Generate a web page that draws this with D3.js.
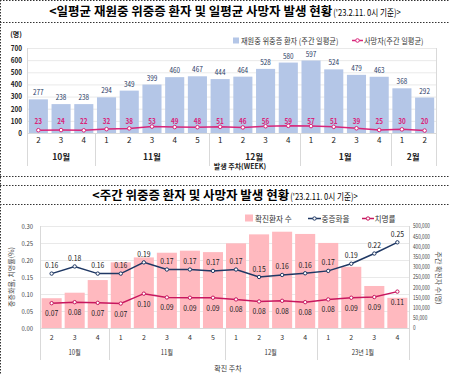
<!DOCTYPE html>
<html><head><meta charset="utf-8">
<script src="https://cdn.jsdelivr.net/npm/d3@7"></script>
<style>
html,body{margin:0;padding:0;background:#fff;}
svg{display:block;font-family:"Noto Sans CJK KR","Noto Sans",sans-serif;}
</style></head>
<body><svg id="c" width="450" height="374"></svg>
<script>
// ---------- data: top chart ----------
const topWeeks = ["2","3","4","1","2","3","4","5","1","2","3","4","1","2","3","4","1","2"];
const topMonthLabels = ["10월","11월","12월","1월","2월"];
const topMonthCounts = [3,5,4,4,2];
const severeInHospital = [277,238,238,294,349,399,460,467,444,464,528,580,597,524,479,463,368,292];
const deathsDaily = [23,24,22,32,38,53,49,48,51,46,56,59,57,51,39,25,30,20];
const topYTicks = [0,100,200,300,400,500,600,700];

// ---------- data: bottom chart ----------
const botWeeks = ["2","3","4","1","2","3","4","5","1","2","3","4","1","2","3","4"];
const botMonthLabels = ["10월","11월","12월","23년 1월"];
const botMonthCounts = [3,5,4,4];
const confirmedWeekly = [146000,173000,235000,322000,346000,369000,379000,372000,415000,459000,472000,461000,417000,300000,206000,148000];
const severeRate = [0.160,0.181,0.160,0.160,0.193,0.172,0.172,0.168,0.172,0.150,0.156,0.161,0.168,0.189,0.219,0.252];
const fatalityRate = [0.073,0.076,0.074,0.072,0.101,0.090,0.089,0.089,0.084,0.078,0.080,0.076,0.084,0.089,0.091,0.107];
const botLeftTicks = [0,0.05,0.10,0.15,0.20,0.25,0.30];
const botRightTicks = [0,50000,100000,150000,200000,250000,300000,350000,400000,450000,500000];

const svg = d3.select("#c");
const FONT = '"Noto Sans CJK KR","Noto Sans",sans-serif';

function condense(sel, f){
  sel.each(function(){
    const w = this.getComputedTextLength();
    if(w>0){ this.setAttribute("textLength", (w*f).toFixed(2)); this.setAttribute("lengthAdjust","spacingAndGlyphs"); }
  });
  return sel;
}

// ---------- frame / title boxes ----------
const dot = "1.5,1.5";
svg.append("line").attr("x1",0.5).attr("x2",0.5).attr("y1",0).attr("y2",374).attr("stroke","#333").attr("stroke-dasharray",dot);
[0.5,22.5,176.5,185.5,204.5].forEach(y=>{
  svg.append("line").attr("x1",0).attr("x2",450).attr("y1",y).attr("y2",y).attr("stroke","#333").attr("stroke-dasharray",dot);
});

function title(y, main){
  const t = svg.append("text").attr("x",225).attr("y",y).attr("text-anchor","middle").attr("fill","#000");
  t.append("tspan").attr("font-size",12.5).attr("font-weight","bold").text(main);
  const s = t.append("tspan").attr("font-size",9.5).attr("dx",1).text("('23.2.11. 0시 기준)>");
  return s;
}
condense(title(16, "<일평균 재원중 위중증 환자 및 일평균 사망자 발생 현황"),0.8);
condense(title(199.5, "<주간 위중증 환자 및 사망자 발생 현황"),0.8);

// ======================= TOP CHART =======================
const tL = 27, tR = 436;
const tx = d3.scaleBand().domain(d3.range(topWeeks.length)).range([tL,tR]).paddingInner(0.16).paddingOuter(0.08);
const ty = d3.scaleLinear().domain([0,700]).range([133,48]);
const tg = svg.append("g");

// gridlines
tg.selectAll(".tgrid").data(topYTicks).join("line")
  .attr("x1",tL).attr("x2",tR).attr("y1",d=>ty(d)+0.5).attr("y2",d=>ty(d)+0.5)
  .attr("stroke","#e3e3e3").attr("stroke-width",0.8);
// frame sides
[tL,tR].forEach(x=>tg.append("line").attr("x1",x+0.5).attr("x2",x+0.5).attr("y1",ty(700)).attr("y2",166).attr("stroke","#d9d9d9"));

// y axis labels
tg.append("g").attr("transform",`translate(${tL-5},0)`)
  .call(d3.axisLeft(ty).tickValues(topYTicks).tickSize(0).tickPadding(0))
  .call(g=>g.select(".domain").remove())
  .call(g=>g.selectAll("text").attr("font-size",7.5).attr("font-weight","bold").attr("fill","#222").attr("font-family",FONT).each(function(){condense(d3.select(this),0.85);}));
tg.append("text").attr("x",16).attr("y",37).attr("text-anchor","middle").attr("font-size",7).attr("font-weight","bold").attr("fill","#222").text("(명)");

// bars
tg.selectAll(".tbar").data(severeInHospital).join("rect")
  .attr("x",(d,i)=>tx(i)).attr("width",tx.bandwidth())
  .attr("y",d=>ty(d)).attr("height",d=>ty(0)-ty(d)).attr("fill","#b4c6e7");
// bar labels
tg.selectAll(".tbl").data(severeInHospital).join("text")
  .attr("x",(d,i)=>tx(i)+tx.bandwidth()/2).attr("y",d=>ty(d)-4)
  .attr("text-anchor","middle").attr("font-size",7.5).attr("fill","#1f3864").text(d=>d)
  .call(s=>condense(s,0.85));

// x axis line
tg.append("line").attr("x1",tL).attr("x2",tR).attr("y1",ty(0)+0.5).attr("y2",ty(0)+0.5).attr("stroke","#d9d9d9");

// death line
const tline = d3.line().x((d,i)=>tx(i)+tx.bandwidth()/2).y(d=>ty(d));
tg.append("path").datum(deathsDaily).attr("d",tline).attr("fill","none").attr("stroke","#d9257a").attr("stroke-width",1.5);
tg.selectAll(".tdot").data(deathsDaily).join("circle")
  .attr("cx",(d,i)=>tx(i)+tx.bandwidth()/2).attr("cy",d=>ty(d)).attr("r",1.8)
  .attr("fill","#fff").attr("stroke","#d9257a").attr("stroke-width",1);
tg.selectAll(".tdl").data(deathsDaily).join("text")
  .attr("x",(d,i)=>tx(i)+tx.bandwidth()/2).attr("y",123.5)
  .attr("text-anchor","middle").attr("font-size",7.5).attr("font-weight","bold").attr("fill","#d9257a").text(d=>d)
  .call(s=>condense(s,0.85));

// week labels
tg.selectAll(".twk").data(topWeeks).join("text")
  .attr("x",(d,i)=>tx(i)+tx.bandwidth()/2).attr("y",143)
  .attr("text-anchor","middle").attr("font-size",8).attr("fill","#222").text(d=>d);
// month groups
{
  let start = 0;
  topMonthCounts.forEach((n,k)=>{
    const x0 = tL + (tR-tL)*start/topWeeks.length;
    const x1 = tL + (tR-tL)*(start+n)/topWeeks.length;
    if(k>0) tg.append("line").attr("x1",Math.round(x0)+0.5).attr("x2",Math.round(x0)+0.5).attr("y1",ty(0)).attr("y2",166).attr("stroke","#d9d9d9");
    tg.append("text").attr("x",(x0+x1)/2).attr("y",160).attr("text-anchor","middle").attr("font-size",8.5).attr("font-weight","bold").attr("fill","#222").text(topMonthLabels[k]);
    start += n;
  });
}
tg.append("text").attr("x",240).attr("y",168.5).attr("text-anchor","middle").attr("font-size",7).attr("font-weight","bold").attr("fill","#222").text("발생 주차(WEEK)");

// legend top
tg.append("rect").attr("x",233).attr("y",37.5).attr("width",6).attr("height",6).attr("fill","#b4c6e7");
tg.append("text").attr("x",241).attr("y",43.5).attr("font-size",8).attr("fill","#333").text("재원중 위중증 환자 (주간 일평균)").call(s=>condense(s,0.9));
tg.append("line").attr("x1",352).attr("x2",363).attr("y1",40.5).attr("y2",40.5).attr("stroke","#d9257a").attr("stroke-width",1.5);
tg.append("circle").attr("cx",357.5).attr("cy",40.5).attr("r",1.8).attr("fill","#fff").attr("stroke","#d9257a");
tg.append("text").attr("x",364).attr("y",43.5).attr("font-size",8).attr("fill","#333").text("사망자(주간 일평균)").call(s=>condense(s,0.9));

// ======================= BOTTOM CHART =======================
const bL = 40, bR = 409;
const bx = d3.scaleBand().domain(d3.range(botWeeks.length)).range([bL,bR]).paddingInner(0.13).paddingOuter(0.07);
const byL = d3.scaleLinear().domain([0,0.30]).range([328,226]);
const byR = d3.scaleLinear().domain([0,500000]).range([328,226]);
const bg = svg.append("g");

bg.selectAll(".bgrid").data(botLeftTicks).join("line")
  .attr("x1",bL).attr("x2",bR).attr("y1",d=>Math.round(byL(d))+0.5).attr("y2",d=>Math.round(byL(d))+0.5)
  .attr("stroke","#e3e3e3").attr("stroke-width",0.8);
[bL,bR].forEach(x=>bg.append("line").attr("x1",x+0.5).attr("x2",x+0.5).attr("y1",226).attr("y2",360).attr("stroke","#d9d9d9"));

bg.append("g").attr("transform",`translate(${bL-7},0)`)
  .call(d3.axisLeft(byL).tickValues(botLeftTicks).tickSize(0).tickPadding(0).tickFormat(d3.format(".2f")))
  .call(g=>g.select(".domain").remove())
  .call(g=>g.selectAll("text").attr("font-size",7).attr("fill","#444").attr("font-family",FONT).each(function(){condense(d3.select(this),0.85);}));
bg.append("g").attr("transform",`translate(${bR+4},0)`)
  .call(d3.axisRight(byR).tickValues(botRightTicks).tickSize(0).tickPadding(0).tickFormat(d3.format(",")))
  .call(g=>g.select(".domain").remove())
  .call(g=>g.selectAll("text").attr("font-size",6).attr("fill","#444").attr("font-family",FONT).each(function(){condense(d3.select(this),0.78);}));
bg.append("text").attr("transform","translate(14,277) rotate(-90)").attr("text-anchor","middle").attr("font-size",7).attr("fill","#444").text("중증화율, 치명률(%)");
bg.append("text").attr("transform","translate(436,278) rotate(90)").attr("text-anchor","middle").attr("font-size",7).attr("fill","#444").text("주간 확진자 수(명)");

bg.selectAll(".bbar").data(confirmedWeekly).join("rect")
  .attr("x",(d,i)=>bx(i)).attr("width",bx.bandwidth())
  .attr("y",d=>byR(d)).attr("height",d=>byR(0)-byR(d)).attr("fill","#ffb9bf");
bg.append("line").attr("x1",bL).attr("x2",bR).attr("y1",328.5).attr("y2",328.5).attr("stroke","#d9d9d9");

const bcx = i=>bx(i)+bx.bandwidth()/2;
function drawLine(data,color,dy){
  bg.append("path").datum(data).attr("d",d3.line().x((d,i)=>bcx(i)).y(d=>byL(d))).attr("fill","none").attr("stroke",color).attr("stroke-width",1.5);
  bg.selectAll(null).data(data).join("circle").attr("cx",(d,i)=>bcx(i)).attr("cy",d=>byL(d)).attr("r",1.7).attr("fill","#fff").attr("stroke",color).attr("stroke-width",1);
  bg.selectAll(null).data(data).join("text").attr("x",(d,i)=>bcx(i)).attr("y",d=>byL(d)+dy)
    .attr("text-anchor","middle").attr("font-size",8).attr("fill","#222").text(d=>d3.format(".2f")(d)).call(s=>condense(s,0.85));
}
drawLine(severeRate,"#1f3864",-5.5);
drawLine(fatalityRate,"#c8175f",13);

bg.selectAll(".bwk").data(botWeeks).join("text")
  .attr("x",(d,i)=>bcx(i)).attr("y",339.5).attr("text-anchor","middle").attr("font-size",7).attr("fill","#333").text(d=>d);
{
  let start = 0;
  botMonthCounts.forEach((n,k)=>{
    const x0 = bL + (bR-bL)*start/botWeeks.length;
    const x1 = bL + (bR-bL)*(start+n)/botWeeks.length;
    if(k>0) bg.append("line").attr("x1",Math.round(x0)+0.5).attr("x2",Math.round(x0)+0.5).attr("y1",328).attr("y2",360).attr("stroke","#d9d9d9");
    bg.append("text").attr("x",(x0+x1)/2).attr("y",354.5).attr("text-anchor","middle").attr("font-size",7).attr("fill","#333").text(botMonthLabels[k]).call(s=>condense(s,0.85));
    start += n;
  });
}
bg.append("text").attr("x",228).attr("y",370.5).attr("text-anchor","middle").attr("font-size",7).attr("fill","#333").text("확진 주차");

// legend bottom
bg.append("rect").attr("x",245).attr("y",214.5).attr("width",8).attr("height",7).attr("fill","#ffb9bf");
bg.append("text").attr("x",255).attr("y",221.5).attr("font-size",8.5).attr("fill","#333").text("확진환자 수").call(s=>condense(s,0.9));
bg.append("line").attr("x1",308).attr("x2",321).attr("y1",218.5).attr("y2",218.5).attr("stroke","#1f3864").attr("stroke-width",1.5);
bg.append("circle").attr("cx",314.5).attr("cy",218.5).attr("r",1.7).attr("fill","#fff").attr("stroke","#1f3864");
bg.append("text").attr("x",321.5).attr("y",221.5).attr("font-size",8.5).attr("fill","#333").text("중증화율").call(s=>condense(s,0.9));
bg.append("line").attr("x1",362).attr("x2",374).attr("y1",218.5).attr("y2",218.5).attr("stroke","#c8175f").attr("stroke-width",1.5);
bg.append("circle").attr("cx",368).attr("cy",218.5).attr("r",1.7).attr("fill","#fff").attr("stroke","#c8175f");
bg.append("text").attr("x",374.5).attr("y",221.5).attr("font-size",8.5).attr("fill","#333").text("치명률").call(s=>condense(s,0.9));
</script></body></html>
